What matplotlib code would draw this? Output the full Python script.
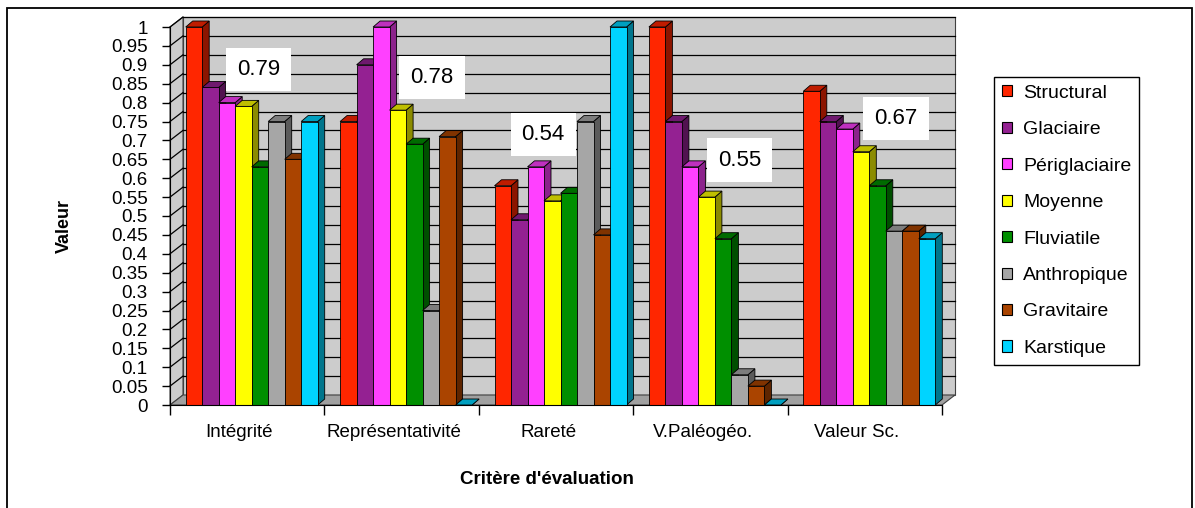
import matplotlib
matplotlib.use("Agg")
import matplotlib.pyplot as plt
import matplotlib.colors as mcolors
from matplotlib.patches import Polygon, Rectangle
import numpy as np

plt.rcParams['font.family'] = ['Liberation Sans', 'DejaVu Sans']

categories = ['Intégrité', 'Représentativité', 'Rareté', 'V.Paléogéo.', 'Valeur Sc.']
series_names = ['Structural', 'Glaciaire', 'Périglaciaire', 'Moyenne',
                'Fluviatile', 'Anthropique', 'Gravitaire', 'Karstique']

structural = [1.00, 0.75, 0.58, 1.00, 0.83]
glaciaire = [0.84, 0.90, 0.49, 0.75, 0.75]
periglaciaire = [0.80, 1.00, 0.63, 0.63, 0.73]
moyenne = [0.79, 0.78, 0.54, 0.55, 0.67]
fluviatile = [0.63, 0.69, 0.56, 0.44, 0.58]
anthropique = [0.75, 0.25, 0.75, 0.08, 0.46]
gravitaire = [0.65, 0.71, 0.45, 0.05, 0.46]
karstique = [0.75, 0.00, 1.00, 0.00, 0.44]

series_values = [structural, glaciaire, periglaciaire, moyenne,
                 fluviatile, anthropique, gravitaire, karstique]
colors = ['#FF2600', '#942192', '#FF40FF', '#FFFF00',
          '#008F00', '#A6A6A6', '#AA4400', '#00D4FF']

# offsets (px) of the average labels from the top of the Moyenne bars
label_offsets = [(15, 37), (34, 33), (-9, 66), (33, 37), (35, 33)]

# --- layout: pixel anchors of the value/category scales ---
W, H = 1195, 508
PX_X0, UX = 170, 154.4      # x = -0.5 at px 170, px per category
PX_Y0, UY = 405, 378        # y = 0 at px 405, px per unit value
xlim = (-0.56, 4.62)
ylim = (-0.04, 1.05)

fig = plt.figure(figsize=(W / 100, H / 100), dpi=100)
left = PX_X0 + (xlim[0] + 0.5) * UX
right = PX_X0 + (xlim[1] + 0.5) * UX
top = PX_Y0 - ylim[1] * UY
bottom = PX_Y0 - ylim[0] * UY
ax = fig.add_axes([left / W, 1 - bottom / H, (right - left) / W, (bottom - top) / H])
ax.set_xlim(*xlim)
ax.set_ylim(*ylim)

# depth of walls and bars in data units
WDX, WDY = 13 / UX, 10 / UY
BDX, BDY = 7 / UX, 6 / UY
bw = 16.5 / UX
shift = 4.5 / UX
n_ser = len(series_names)
ncat = len(categories)

wall_col = '#CCCCCC'
floor_col = '#A0A0A0'

# back wall, left wall, floor
x_a, x_b = -0.5, ncat - 0.5
ax.add_patch(Polygon([(x_a + WDX, WDY), (x_b + WDX, WDY), (x_b + WDX, 1 + WDY),
                      (x_a + WDX, 1 + WDY)], closed=True, fc=wall_col,
                     ec='#404040', lw=0.8, zorder=1))
ax.add_patch(Polygon([(x_a, 0), (x_a + WDX, WDY), (x_a + WDX, 1 + WDY), (x_a, 1)],
                     closed=True, fc=wall_col, ec='#404040', lw=0.8, zorder=1))
ax.add_patch(Polygon([(x_a, 0), (x_b, 0), (x_b + WDX, WDY), (x_a + WDX, WDY)],
                     closed=True, fc=floor_col, ec='#404040', lw=0.8, zorder=1.5))

# gridlines on the walls
yt = np.round(np.arange(0, 1.0001, 0.05), 2)
for v in yt[1:]:
    ax.plot([x_a + WDX, x_b + WDX], [v + WDY, v + WDY], color='black', lw=0.9, zorder=1.2)
    ax.plot([x_a, x_a + WDX], [v, v + WDY], color='black', lw=0.9, zorder=1.2)


def shade(c, k):
    r, g, b = mcolors.to_rgb(c)
    return (r * k, g * k, b * k)


z = 2
for i in range(ncat):
    x_start = i + shift - n_ser / 2 * bw
    for j in range(n_ser):
        v = series_values[j][i]
        c = colors[j]
        x0 = x_start + j * bw
        x1 = x0 + bw
        ax.add_patch(Polygon([(x1, 0), (x1 + BDX, BDY), (x1 + BDX, v + BDY), (x1, v)],
                             closed=True, fc=shade(c, 0.55), ec='black', lw=0.6, zorder=z))
        ax.add_patch(Polygon([(x0, v), (x1, v), (x1 + BDX, v + BDY), (x0 + BDX, v + BDY)],
                             closed=True, fc=shade(c, 0.75), ec='black', lw=0.6, zorder=z))
        if v > 0:
            ax.add_patch(Rectangle((x0, 0), bw, v, fc=c, ec='black', lw=0.6, zorder=z + 0.5))
        z += 1

# labels of the Moyenne series
j_moy = series_names.index('Moyenne')
for i in range(ncat):
    xc = i + shift - n_ser / 2 * bw + (j_moy + 0.5) * bw
    v = moyenne[i]
    dx, dy = label_offsets[i]
    ax.annotate(f'{v:.2f}', (xc, v), xytext=(dx * 0.72, dy * 0.72),
                textcoords='offset points', ha='center', va='center', fontsize=16,
                bbox=dict(boxstyle='square,pad=0.5', fc='white', ec='none'),
                zorder=200)

# axes, ticks
for s in ['top', 'right']:
    ax.spines[s].set_visible(False)
ax.spines['left'].set_position(('data', x_a))
ax.spines['left'].set_bounds(0, 1)
ax.spines['bottom'].set_position(('data', 0))
ax.spines['bottom'].set_bounds(x_a, x_b)
ax.spines['left'].set_zorder(300)
ax.spines['bottom'].set_zorder(300)

ax.set_yticks(yt, [f'{v:g}' for v in yt])
ax.tick_params(axis='y', length=6, width=1, labelsize=13.5, pad=10)
ax.set_xticks(np.arange(ncat) - 0.05, categories)
ax.set_xticks(np.arange(ncat + 1) - 0.5, minor=True)
ax.tick_params(axis='x', which='major', length=0, labelsize=13.5, pad=14)
ax.tick_params(axis='x', which='minor', length=7, width=1)

fig.text(64.5 / W, 1 - 226 / H, 'Valeur', rotation=90, ha='center', va='center',
         fontsize=13, fontweight='bold')
fig.text(547 / W, 1 - 480 / H, "Critère d'évaluation", ha='center', va='center',
         fontsize=13.5, fontweight='bold')

handles = [Rectangle((0, 0), 1, 1, fc=c, ec='black', lw=0.8) for c in colors]
fig.legend(handles, series_names, loc='upper left',
           bbox_to_anchor=(994 / W, 1 - 77 / H), fontsize=14, frameon=True,
           fancybox=False, edgecolor='black', framealpha=1, borderaxespad=0,
           handlelength=0.5, handleheight=0.5, handletextpad=0.6,
           labelspacing=1.0, borderpad=0.4)

# outer chart frame
fig.add_artist(Rectangle((7 / W, -0.02), (1192 - 7) / W, 1 - 8 / H + 0.02,
                         transform=fig.transFigure, fill=False, ec='black', lw=1.3))

fig.savefig('out.png', dpi=100)
